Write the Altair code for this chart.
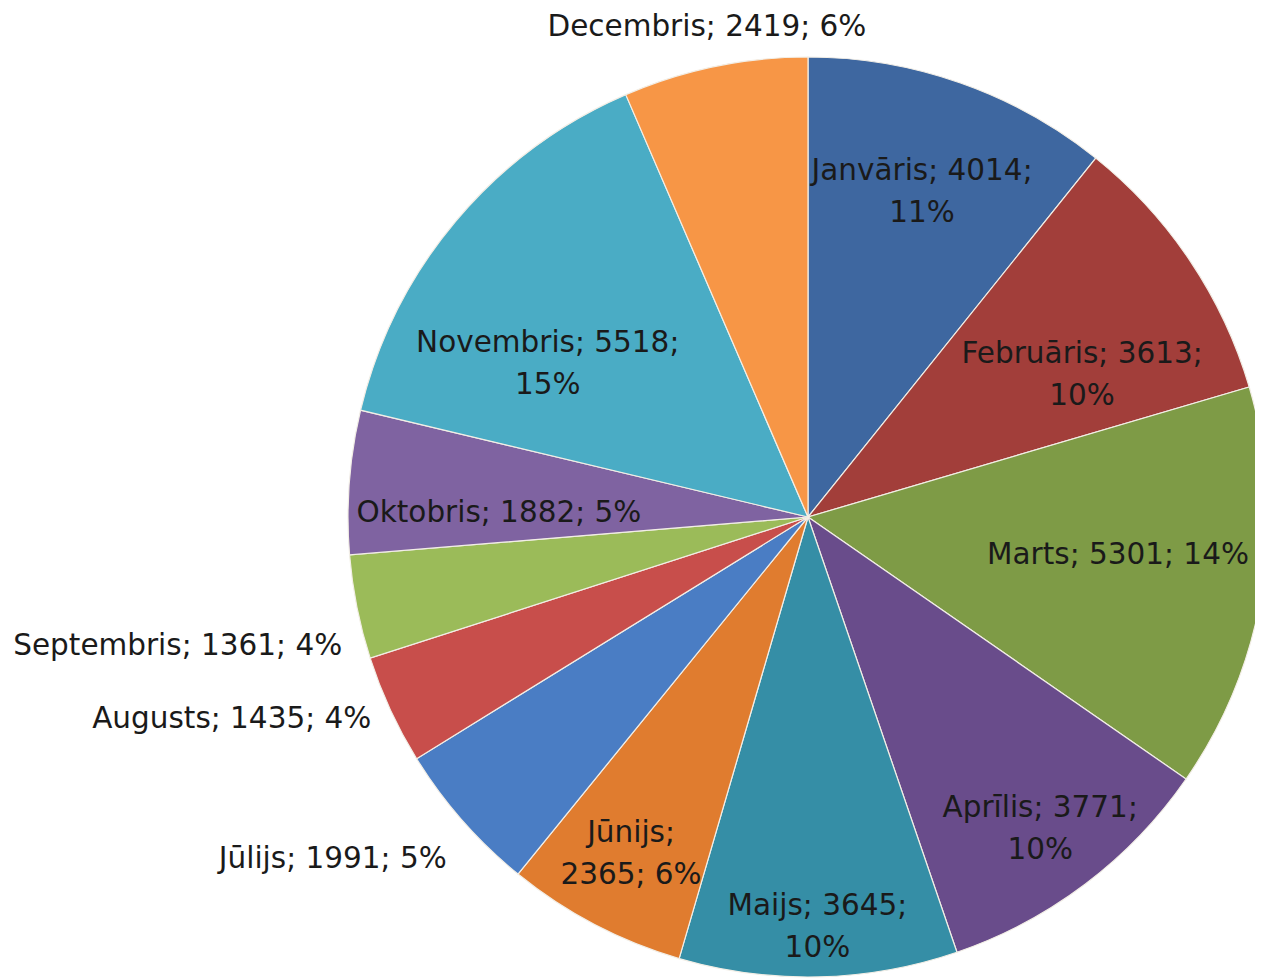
import altair as alt
import pandas as pd

# ---- data ----
months = ["Janvāris", "Februāris", "Marts", "Aprīlis", "Maijs", "Jūnijs",
          "Jūlijs", "Augusts", "Septembris", "Oktobris", "Novembris", "Decembris"]
values = [4014, 3613, 5301, 3771, 3645, 2365, 1991, 1435, 1361, 1882, 5518, 2419]

# ---- styling / label layout ----
COLORS = ["#3E67A0", "#A23E3A", "#7E9B46", "#694C8B", "#358EA6", "#E07C2F",
          "#4A7DC4", "#C84E4B", "#9BBB59", "#7F63A1", "#4AACC5", "#F79646"]
# parts kept on the first line of each label (rest wraps)
FIRST_LINE_PARTS = [2, 2, 3, 2, 2, 1, 3, 3, 3, 3, 2, 3]
# label distance from the pie centre (px) and small vertical nudges (px)
LABEL_RADIUS = [344, 330, 314, 385, 410, 381, 481, 481, 475, 310, 340, 500]
LABEL_NUDGE = [0, 42, -12, 5, 0, 0, 24, 0, 36, 20, 66, 0]
OUTSIDE_LEFT = ["Jūlijs", "Augusts", "Septembris"]

total = sum(values)
labels = []
for m, v, k in zip(months, values, FIRST_LINE_PARTS):
    parts = [m, str(v), f"{round(100 * v / total)}%"]
    first = "; ".join(parts[:k])
    rest = "; ".join(parts[k:])
    labels.append(first + (";\n" + rest if rest else ""))

CX, CY, R = 800, 509, 460
FONT = "DejaVu Sans"
FS = 29.5
LH = 42

groups = []
for m, k, n in zip(months, FIRST_LINE_PARTS, LABEL_NUDGE):
    align = "right" if m in OUTSIDE_LEFT else "center"
    dy = n - (LH / 2 if k < 3 else 0)
    groups.append(f"{align}|{dy}")

df = pd.DataFrame({
    "month": months,
    "value": values,
    "idx": list(range(len(months))),
    "label": labels,
    "lr": LABEL_RADIUS,
    "grp": groups,
})

theta_scale = alt.Scale(domain=[0, total])

base = alt.Chart(df).transform_window(
    cum="sum(value)", sort=[alt.SortField("idx")],
    frame=[None, 0],
).transform_calculate(
    start="datum.cum - datum.value",
    mid="datum.cum - datum.value / 2",
).encode(
    x=alt.value(CX),
    y=alt.value(CY),
)

arcs = base.mark_arc(outerRadius=R, stroke="#F2EEE6", strokeWidth=1.2).encode(
    theta=alt.Theta("start:Q", scale=theta_scale, stack=None),
    theta2="cum:Q",
    color=alt.Color("month:N", sort=months,
                    scale=alt.Scale(domain=months, range=COLORS), legend=None),
)

layers = [arcs]
for g in dict.fromkeys(groups):
    align, dy = g.split("|")
    layers.append(
        base.transform_filter(alt.datum.grp == g).mark_text(
            font=FONT, fontSize=FS, lineBreak="\n", lineHeight=LH,
            align=align, baseline="middle", color="#1A1A1A", dy=float(dy),
        ).encode(
            theta=alt.Theta("mid:Q", scale=theta_scale, stack=None),
            text="label:N",
            radius=alt.Radius("lr:Q", scale=None),
        )
    )

chart = alt.layer(*layers).properties(
    width=1247, height=971, autosize="none", padding=0,
).configure_view(strokeWidth=0)

chart.save("out.html", embed_options={"renderer": "svg", "actions": False})
